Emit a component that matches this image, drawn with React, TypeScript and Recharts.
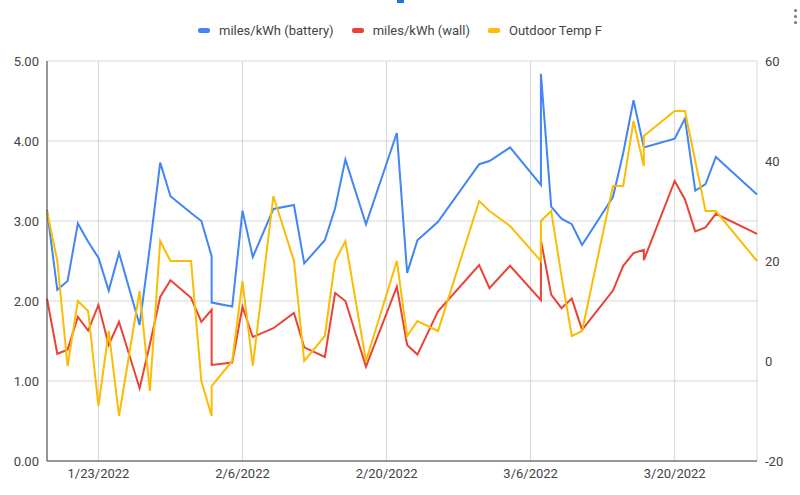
import {
  LineChart,
  Line,
  XAxis,
  YAxis,
  CartesianGrid,
  Legend,
} from "recharts";

// one entry per logged row; some days have two rows
const dates = [
  "1/18/2022", "1/19/2022", "1/20/2022", "1/21/2022", "1/22/2022", "1/23/2022",
  "1/24/2022", "1/25/2022", "1/27/2022", "1/28/2022", "1/29/2022", "1/30/2022",
  "2/1/2022", "2/2/2022", "2/3/2022", "2/3/2022", "2/5/2022", "2/6/2022",
  "2/7/2022", "2/9/2022", "2/11/2022", "2/12/2022", "2/14/2022", "2/15/2022",
  "2/16/2022", "2/18/2022", "2/21/2022", "2/22/2022", "2/23/2022", "2/25/2022",
  "3/1/2022", "3/2/2022", "3/4/2022", "3/7/2022", "3/7/2022", "3/8/2022",
  "3/9/2022", "3/10/2022", "3/11/2022", "3/14/2022", "3/15/2022", "3/16/2022",
  "3/17/2022", "3/17/2022", "3/20/2022", "3/21/2022", "3/22/2022", "3/23/2022",
  "3/24/2022", "3/28/2022",
];

const batteryMpk = [
  3.14, 2.14, 2.25, 2.97, 2.74, 2.54,
  2.13, 2.6, 1.7, 2.68, 3.73, 3.31,
  3.1, 3.0, 2.56, 1.98, 1.93, 3.13,
  2.55, 3.15, 3.2, 2.47, 2.76, 3.16,
  3.77, 2.96, 4.1, 2.35, 2.76, 2.99,
  3.71, 3.75, 3.92, 3.45, 4.84, 3.18,
  3.03, 2.96, 2.7, 3.3, 3.85, 4.51,
  3.92, 3.92, 4.03, 4.28, 3.38, 3.46,
  3.8, 3.33,
];

const wallMpk = [
  2.03, 1.34, 1.39, 1.8, 1.63, 1.95,
  1.45, 1.74, 0.91, 1.46, 2.05, 2.26,
  2.04, 1.74, 1.89, 1.2, 1.23, 1.93,
  1.55, 1.66, 1.85, 1.42, 1.3, 2.1,
  2.0, 1.18, 2.18, 1.45, 1.33, 1.87,
  2.45, 2.16, 2.44, 2.01, 2.76, 2.08,
  1.91, 2.03, 1.64, 2.13, 2.44, 2.6,
  2.64, 2.51, 3.5, 3.27, 2.87, 2.92,
  3.09, 2.84,
];

const outdoorTemp = [
  30, 20, -1, 12, 10, -9,
  6, -11, 14, -6, 24, 20,
  20, -4, -11, -5, 0, 16,
  -1, 33, 20, 0, 5, 20,
  24, 0, 20, 5, 8, 6,
  32, 30, 27, 20, 28, 30,
  17, 5, 6, 35, 35, 48,
  39, 45, 50, 50, 40, 30,
  30, 20,
];

const xTickLabels = ["1/23/2022", "2/6/2022", "2/20/2022", "3/6/2022", "3/20/2022"];
const leftTicks = [0, 1, 2, 3, 4, 5];
const rightTicks = [-20, 0, 20, 40, 60];

const series = [
  { key: "battery", name: "miles/kWh (battery)", color: "#4285F4", axis: "left" },
  { key: "wall", name: "miles/kWh (wall)", color: "#EA4335", axis: "left" },
  { key: "temp", name: "Outdoor Temp F", color: "#FBBC04", axis: "right" },
];

const toUtc = (s: string) => {
  const [m, d, y] = s.split("/").map(Number);
  return Date.UTC(y, m - 1, d);
};
const start = toUtc(dates[0]);
const toDay = (s: string) => (toUtc(s) - start) / 86400000;

const data = dates.map((d, i) => ({
  day: toDay(d),
  battery: batteryMpk[i],
  wall: wallMpk[i],
  temp: outdoorTemp[i],
}));

const xTicks = xTickLabels.map(toDay);

const font = "Roboto, 'Liberation Sans', Arial, sans-serif";
const tickStyle = { fontSize: 13, fill: "#444", fontFamily: font };

const LegendRow = () => (
  <div
    style={{
      height: 41,
      display: "flex",
      justifyContent: "center",
      alignItems: "flex-start",
      fontFamily: font,
      fontSize: 13,
      color: "#444",
    }}
  >
    {series.map((s) => (
      <div
        key={s.key}
        style={{ display: "flex", alignItems: "center", margin: "0 9px", height: 20 }}
      >
        <span
          style={{
            display: "inline-block",
            width: 12,
            height: 5,
            borderRadius: 2,
            background: s.color,
            marginRight: 9,
          }}
        />
        {s.name}
      </div>
    ))}
  </div>
);

export default function App() {
  return (
    <div style={{ position: "absolute", left: 0, top: 0, width: 800, height: 495, background: "#fff" }}>
      <div style={{ position: "absolute", left: 397, top: 0, width: 7, height: 3, background: "#1a73e8" }} />
      {[9, 15, 21].map((t) => (
        <div
          key={t}
          style={{ position: "absolute", left: 794, top: t, width: 3, height: 3, borderRadius: 2, background: "#777" }}
        />
      ))}
      <LineChart
        width={800}
        height={495}
        data={data}
        margin={{ top: 20, right: 0, bottom: 0, left: 0 }}
      >
        <CartesianGrid stroke="#d6d6d6" yAxisId="left" />
        <XAxis
          dataKey="day"
          type="number"
          domain={["dataMin", "dataMax"]}
          ticks={xTicks}
          tickFormatter={(v: number) => xTickLabels[xTicks.indexOf(v)]}
          tick={tickStyle}
          tickLine={false}
          axisLine={{ stroke: "#444" }}
          height={34}
        />
        <YAxis
          yAxisId="left"
          domain={[0, 5]}
          ticks={leftTicks}
          tickFormatter={(v: number) => v.toFixed(2)}
          tick={tickStyle}
          tickLine={false}
          axisLine={{ stroke: "#444" }}
          width={47}
        />
        <YAxis
          yAxisId="right"
          orientation="right"
          domain={[-20, 60]}
          ticks={rightTicks}
          tick={tickStyle}
          tickLine={false}
          axisLine={false}
          width={43}
        />
        <Legend verticalAlign="top" content={() => <LegendRow />} />
        {series.map((s) => (
          <Line
            key={s.key}
            yAxisId={s.axis}
            type="linear"
            dataKey={s.key}
            name={s.name}
            stroke={s.color}
            strokeWidth={2}
            dot={false}
            isAnimationActive={false}
          />
        ))}
      </LineChart>
    </div>
  );
}
